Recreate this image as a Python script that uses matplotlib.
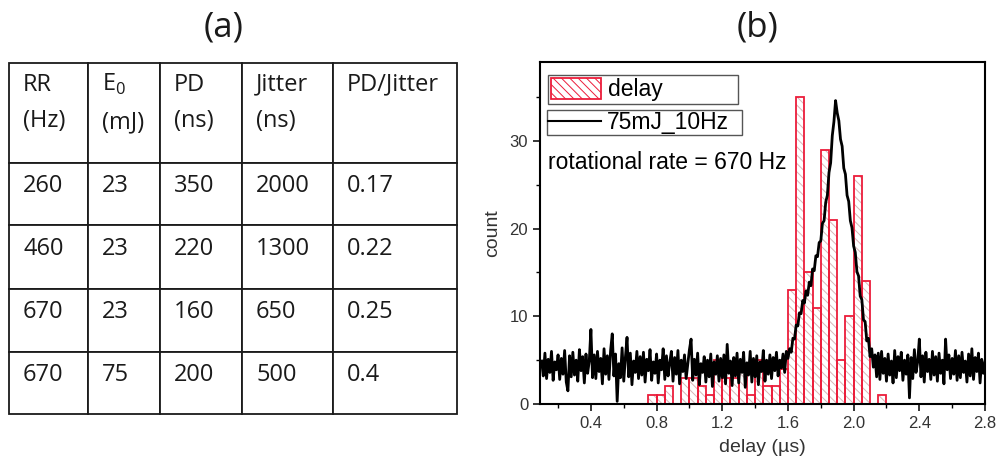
import matplotlib.pyplot as plt
import numpy as np
from matplotlib.patches import Patch
from matplotlib.lines import Line2D
from matplotlib.ticker import AutoMinorLocator
from matplotlib.transforms import offset_copy, IdentityTransform

plt.rcParams['font.family'] = ['Liberation Sans', 'DejaVu Sans']
plt.rcParams['hatch.linewidth'] = 0.7

# ---- table (a) ----
col_labels = ['RR\n(Hz)', r'E$_\mathregular{0}$' + '\n(mJ)', 'PD\n(ns)', 'Jitter\n(ns)', 'PD/Jitter\n ']
rr = ['260', '460', '670', '670']
e0 = ['23', '23', '23', '75']
pd_ns = ['350', '220', '160', '200']
jitter = ['2000', '1300', '650', '500']
ratio = ['0.17', '0.22', '0.25', '0.4']

# ---- histogram (b): 0.05 us bins, first bin starts at 0.75 us ----
bin_start = 0.75
bin_w = 0.05
counts = [1, 1, 2, 0, 3, 3, 2, 1, 5, 3, 3, 4, 1, 5, 2, 2, 4,
          13, 35, 15, 11, 29, 21, 5, 10, 26, 14, 0, 1]

# 75mJ_10Hz trace, read every 0.01 us from 0.10 to 2.80 us
trace_start = 0.10
trace_step = 0.01
trace = [
    4.9, 3.2, 5.8, 2.9, 5.1, 3.6, 6.0, 2.7, 4.8, 3.9,
    5.6, 2.8, 5.2, 3.4, 6.1, 2.5, 1.5, 5.5, 3.1, 5.9,
    3.3, 5.0, 2.6, 6.2, 3.8, 5.4, 2.4, 5.7, 3.5, 4.9,
    8.5, 3.0, 5.6, 2.9, 6.0, 3.7, 5.2, 2.3, 6.3, 3.4,
    5.5, 2.8, 6.1, 8.0, 3.2, 5.7, 0.3, 4.6, 3.0, 6.4,
    2.6, 5.3, 7.6, 3.1, 5.8, 2.2, 4.9, 3.6, 6.0, 2.9,
    5.4, 3.3, 5.9, 2.5, 5.1, 3.8, 6.2, 2.7, 4.8, 3.5,
    5.7, 2.4, 5.0, 3.9, 6.3, 2.8, 5.5, 3.2, 4.7, 6.0,
    2.6, 5.3, 3.4, 6.1, 2.3, 5.0, 3.7, 5.6, 2.9, 4.5,
    6.2, 7.4, 2.7, 5.1, 3.3, 5.8, 2.2, 4.6, 3.6, 5.4,
    2.5, 5.0, 3.1, 5.7, 2.0, 4.8, 3.4, 5.5, 2.6, 5.2,
    3.0, 5.6, 2.3, 6.8, 3.5, 4.9, 2.1, 5.3, 3.2, 5.8,
    2.4, 5.1, 3.6, 5.9, 1.9, 4.7, 3.3, 6.0, 2.5, 5.2,
    3.1, 5.5, 2.2, 4.8, 3.7, 6.1, 2.6, 5.0, 3.4, 5.6,
    2.9, 5.3, 3.8, 5.9, 3.2, 5.0, 4.1, 5.7, 3.6, 6.0,
    5.2, 6.3, 5.9, 7.5, 7.4, 9.0, 8.9, 10.4, 10.3, 11.8,
    11.5, 12.9, 12.4, 13.9, 13.5, 15.4, 15.2, 16.9, 16.8, 18.4,
    18.6, 20.6, 20.9, 23.0, 23.8, 26.4, 27.5, 30.6, 32.2, 34.6,
    33.2, 32.3, 30.2, 29.4, 26.9, 26.2, 23.8, 23.1, 20.9, 20.1,
    18.0, 17.3, 15.1, 14.6, 12.3, 11.9, 9.6, 9.4, 7.2, 7.5,
    5.4, 6.3, 4.2, 5.6,
    3.1, 5.8, 2.8, 6.0, 3.5, 5.2,
    2.6, 5.7, 3.3, 4.9, 2.4, 6.1, 3.0, 5.4, 3.8, 5.9,
    2.7, 5.0, 3.4, 5.6, 0.7, 5.3, 2.9, 6.2, 3.6, 4.8,
    7.4, 3.1, 5.5, 2.5, 5.9, 3.7, 5.1, 2.8, 6.0, 3.3,
    5.4, 2.6, 5.8, 3.5, 5.0, 2.3, 7.4, 3.9, 5.6, 2.9,
    5.2, 3.4, 6.1, 2.7, 5.5, 3.0, 5.9, 3.6, 4.9, 2.5,
    5.7, 3.2, 6.3, 2.8, 5.3, 3.7, 5.8, 2.4, 5.1, 3.5,
    4.8,
]
xticks = [0.4, 0.8, 1.2, 1.6, 2.0, 2.4, 2.8]
yticks = [0, 10, 20, 30]

fig = plt.figure(figsize=(10, 4.68), dpi=100)

# ---------------- (a) table ----------------
col_w = [79, 72, 82, 91, 124]
row_h = [100, 62, 64, 63, 62]
tax = fig.add_axes([0.009, 1 - 414 / 468, 0.448, 351 / 468])
tax.axis('off')
cell_text = [list(r) for r in zip(rr, e0, pd_ns, jitter, ratio)]
tab = tax.table(cellText=cell_text, colLabels=col_labels, cellLoc='left',
                colLoc='left', bbox=[0, 0, 1, 1])
tab.auto_set_font_size(False)
tab.set_fontsize(17)
for (r, c), cell in tab.get_celld().items():
    cell.set_width(col_w[c])
    cell.set_height(row_h[r])
    cell.set_linewidth(1.3)
    cell.set_edgecolor('#1a1a1a')
    cell.PAD = 14 / col_w[c]
    txt = cell.get_text()
    txt.set_fontfamily('Open Sans')
    txt.set_color('#1a1a1a')
    shift = 10 if r == 0 else 8
    txt.set_transform(offset_copy(IdentityTransform(), fig=fig, y=shift, units='dots'))
    if r == 0:
        txt.set_linespacing(1.7)

fig.text(0.224, 1 - 28 / 468, '(a)', fontsize=25, ha='center', va='center',
         family='Open Sans', color='#1a1a1a')
fig.text(0.757, 1 - 28 / 468, '(b)', fontsize=25, ha='center', va='center',
         family='Open Sans', color='#1a1a1a')

# ---------------- (b) histogram ----------------
ax = fig.add_axes([0.54, 1 - 404 / 468, 0.445, 342 / 468])
red = '#ec1c3a'
hatch = '\\\\\\\\'
lefts = bin_start + bin_w * np.arange(len(counts))
ax.bar(lefts, counts, width=bin_w, align='edge', facecolor='white',
       edgecolor='#d8b4b8', hatch=hatch, linewidth=0)
ax.bar(lefts, counts, width=bin_w, align='edge', fill=False,
       edgecolor=red, linewidth=1.3)

tx = trace_start + trace_step * np.arange(len(trace))
ax.plot(tx, trace, color='black', lw=2.0)

ax.set_xlim(0.09, 2.8)
ax.set_ylim(0, 39)
ax.set_xticks(xticks)
ax.set_xticklabels([f'{v:.1f}' for v in xticks])
ax.set_yticks(yticks)
ax.xaxis.set_minor_locator(AutoMinorLocator(2))
ax.yaxis.set_minor_locator(AutoMinorLocator(2))
ax.tick_params(which='major', direction='out', length=5, width=1.1,
               labelsize=12, labelcolor='#333333')
ax.tick_params(which='minor', direction='out', length=3, width=1.0)
for s in ax.spines.values():
    s.set_linewidth(1.5)

ax.set_xlabel('delay (\u00b5s)', fontsize=14, color='#333333', labelpad=6)
ax.set_ylabel('count', fontsize=14, color='#333333', labelpad=6)

leg1 = ax.legend(handles=[Patch(facecolor='white', edgecolor=red, hatch=hatch, lw=1.3)],
                 labels=['delay'], loc='upper left',
                 bbox_to_anchor=(0.018, 0, 0.427, 0.962), mode='expand',
                 borderaxespad=0, fontsize=16.5, handlelength=2.2,
                 handleheight=1.05, handletextpad=0.3, borderpad=0.12,
                 fancybox=False, edgecolor='#555555', framealpha=1)
leg1.get_frame().set_linewidth(1.0)
ax.add_artist(leg1)
leg2 = ax.legend(handles=[Line2D([], [], color='black', lw=1.5)],
                 labels=['75mJ_10Hz'], loc='upper left',
                 bbox_to_anchor=(0.016, 0, 0.438, 0.860), mode='expand',
                 borderaxespad=0, fontsize=16.5, handlelength=2.3,
                 handletextpad=0.25, borderpad=0.05,
                 fancybox=False, edgecolor='#555555', framealpha=1)
leg2.get_frame().set_linewidth(1.0)

ax.text(0.018, 0.705, 'rotational rate = 670 Hz', transform=ax.transAxes,
        fontsize=16.5, ha='left', va='center')

fig.savefig('out.png', dpi=100)
